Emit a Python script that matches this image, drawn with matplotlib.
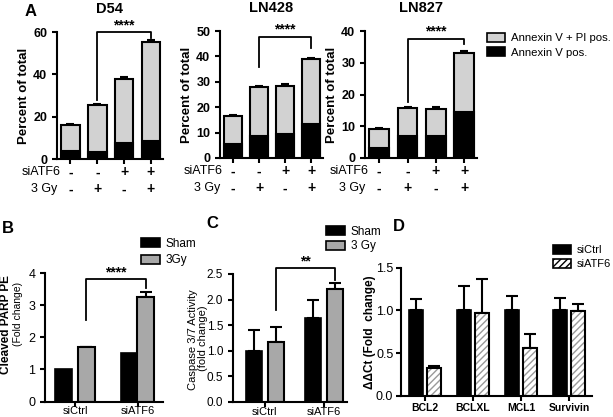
import numpy as np
import matplotlib
matplotlib.use("Agg")
import matplotlib.pyplot as plt
from matplotlib.patches import Patch

plt.rcParams["font.family"] = ["Liberation Sans", "DejaVu Sans"]
plt.rcParams["hatch.linewidth"] = 1.0

# Panel A data (percent of total)
a_titles = ["D54", "LN428", "LN827"]
a_total = [[16, 25.5, 38, 55.5], [16.5, 28, 28.3, 39], [9, 15.8, 15.5, 33]]
a_total_err = [[0.3, 0.3, 0.8, 0.5], [0.5, 0.5, 1.0, 0.5], [0.6, 0.4, 0.5, 0.8]]
a_black = [[4, 3.5, 7.5, 8.5], [5.5, 8.5, 9.5, 13.3], [3.3, 7, 7, 14.5]]
a_ymax = [60, 50, 40]
a_ystep = [20, 10, 10]
siatf6_row = ["-", "-", "+", "+"]
gy_row = ["-", "+", "-", "+"]

# Panel B data (cleaved PARP, fold change)
b_groups = ["siCtrl", "siATF6"]
b_sham = [1.0, 1.5]
b_3gy = [1.7, 3.25]
b_3gy_err = [0.0, 0.15]

# Panel C data (caspase 3/7)
c_groups = ["siCtrl", "siATF6"]
c_sham = [1.0, 1.65]
c_sham_err = [0.4, 0.35]
c_3gy = [1.18, 2.2]
c_3gy_err = [0.28, 0.12]

# Panel D data (ddCt)
d_genes = ["BCL2", "BCLXL", "MCL1", "Survivin"]
d_ctrl = [1.0, 1.0, 1.0, 1.0]
d_ctrl_err = [0.13, 0.29, 0.17, 0.15]
d_atf6 = [0.33, 0.97, 0.56, 0.99]
d_atf6_err = [0.02, 0.4, 0.16, 0.08]

LIGHT = "#d2d2d2"
MID = "#a8a8a8"
W, H = 613, 417


def px_axes(fig, x0, y0, x1, y1):
    return fig.add_axes([x0 / W, 1 - y1 / H, (x1 - x0) / W, (y1 - y0) / H])


def style(ax, lw=1.5):
    ax.spines["top"].set_visible(False)
    ax.spines["right"].set_visible(False)
    ax.spines["left"].set_linewidth(lw)
    ax.spines["bottom"].set_linewidth(lw)
    ax.tick_params(width=lw, length=3.5)


def up_err(ax, x, y, e, cap=3):
    ax.errorbar(x, y, yerr=[np.zeros(len(e)), e], fmt="none", ecolor="black",
                elinewidth=1.5, capsize=cap, capthick=1.5, zorder=1)


def bracket(ax, x1, x2, yl, yr, ytop, label, fs=10):
    ax.plot([x1, x1, x2, x2], [yl, ytop, ytop, yr], color="black", lw=1.3, clip_on=False)
    ax.text((x1 + x2) / 2, ytop, label, ha="center", va="bottom", fontsize=fs,
            fontweight="bold")


def box_legend(fig, handles, labels, x, y, fs=8.5, spacing=0.35):
    fig.legend(handles=handles, labels=labels, loc="upper left",
               bbox_to_anchor=(x / W, 1 - y / H), frameon=False, fontsize=fs,
               handlelength=1.6, handleheight=0.8, handletextpad=0.5,
               labelspacing=spacing, borderaxespad=0, borderpad=0)


fig = plt.figure(figsize=(W / 100, H / 100), dpi=100)

# ---- Panel A ----
a_boxes = [(57, 32, 163, 159), (220, 31, 323, 158), (365, 31, 477, 158)]
a_brackets = [(28, 57, 60), (36, 43.5, 47.8), (17.7, 36, 37.5)]
x = np.arange(4)
for i, box in enumerate(a_boxes):
    ax = px_axes(fig, *box)
    style(ax)
    up_err(ax, x, a_total[i], a_total_err[i], cap=3)
    ax.bar(x, a_total[i], width=0.7, color=LIGHT, edgecolor="black", lw=1.5, zorder=2)
    ax.bar(x, a_black[i], width=0.7, color="black", edgecolor="black", lw=1.5, zorder=3)
    ax.set_xlim(-0.5, 3.45)
    ax.set_ylim(0, a_ymax[i])
    ax.set_yticks(np.arange(0, a_ymax[i] + 1, a_ystep[i]))
    ax.set_xticks(x)
    ax.set_xticklabels([])
    for lab in ax.get_yticklabels():
        lab.set_fontweight("bold")
        lab.set_fontsize(9)
    ax.set_ylabel("Percent of total", fontsize=9.5, fontweight="bold", labelpad=2)
    ax.set_title(a_titles[i], fontsize=10.5, fontweight="bold", pad=14)
    yl, yr, yt = a_brackets[i]
    bracket(ax, 1, 3, yl, yr, yt, "****", fs=10)
    tr = ax.get_xaxis_transform()
    ax.text(0.03, -0.105, "siATF6", transform=ax.transAxes, ha="right", va="center", fontsize=9)
    ax.text(0.0, -0.24, "3 Gy", transform=ax.transAxes, ha="right", va="center", fontsize=9)
    for j in range(4):
        ax.text(x[j], -0.105, siatf6_row[j], transform=tr, ha="center", va="center",
                fontsize=10, fontweight="bold")
        ax.text(x[j], -0.24, gy_row[j], transform=tr, ha="center", va="center",
                fontsize=10, fontweight="bold")

fig.text(25 / W, 1 - 12 / H, "A", fontsize=12, fontweight="bold", va="center")
box_legend(fig, [Patch(facecolor=LIGHT, edgecolor="black", lw=1.2),
                 Patch(facecolor="black", edgecolor="black", lw=1.2)],
           ["Annexin V + PI pos.", "Annexin V pos."], 487, 33, fs=8.2)

# ---- Panel B ----
ax = px_axes(fig, 45, 273, 163, 401.5)
style(ax)
gx = np.arange(2)
offs = np.array([0.175, 0.127])
up_err(ax, gx + offs, b_3gy, b_3gy_err, cap=4)
ax.bar(gx - offs, b_sham, width=0.27, color="black", edgecolor="black", lw=1.2, zorder=2)
ax.bar(gx + offs, b_3gy, width=0.27, color=MID, edgecolor="black", lw=1.5, zorder=2)
ax.set_xlim(-0.476, 1.397)
ax.set_ylim(0, 4)
ax.set_yticks([0, 1, 2, 3, 4])
ax.set_xticks(gx)
ax.set_xticklabels(b_groups, fontsize=8)
ax.tick_params(axis="y", labelsize=9)
ax.tick_params(axis="x", pad=0)
bracket(ax, gx[0] + offs[0], gx[1] + offs[1], 2.55, 3.53, 3.8, "****", fs=10)
fig.text(6 / W, 1 - 325 / H, "Cleaved PARP PE", rotation=90, ha="center", va="center",
         fontsize=8.5, fontweight="bold")
fig.text(18 / W, 1 - 314 / H, "(Fold change)", rotation=90, ha="center", va="center",
         fontsize=7.5)
fig.text(2 / W, 1 - 228 / H, "B", fontsize=12, fontweight="bold", va="center")
box_legend(fig, [Patch(facecolor="black", edgecolor="black", lw=1.2),
                 Patch(facecolor=MID, edgecolor="black", lw=1.2)],
           ["Sham", "3Gy"], 141, 238)

# ---- Panel C ----
ax = px_axes(fig, 233, 274, 347, 402)
style(ax)
off = 0.19
up_err(ax, gx - off, c_sham, c_sham_err, cap=4)
up_err(ax, gx + off, c_3gy, c_3gy_err, cap=4)
ax.bar(gx - off, c_sham, width=0.27, color="black", edgecolor="black", lw=1.2, zorder=2)
ax.bar(gx + off, c_3gy, width=0.27, color=MID, edgecolor="black", lw=1.5, zorder=2)
ax.set_xlim(-0.54, 1.39)
ax.set_ylim(0, 2.5)
ax.set_yticks(np.arange(0, 2.51, 0.5))
ax.set_yticklabels([f"{v:.1f}" for v in np.arange(0, 2.51, 0.5)])
ax.set_xticks(gx)
ax.set_xticklabels(c_groups, fontsize=8)
ax.tick_params(axis="y", labelsize=8.5)
ax.tick_params(axis="x", pad=0)
bracket(ax, gx[0] + off, gx[1] + off, 1.8, 2.38, 2.61, "**", fs=10)
fig.text(193 / W, 1 - 340 / H, "Caspase 3/7 Activity", rotation=90, ha="center",
         va="center", fontsize=8)
fig.text(203 / W, 1 - 338 / H, "(fold change)", rotation=90, ha="center", va="center",
         fontsize=8)
fig.text(206 / W, 1 - 224 / H, "C", fontsize=12, fontweight="bold", va="center")
box_legend(fig, [Patch(facecolor="black", edgecolor="black", lw=1.2),
                 Patch(facecolor=MID, edgecolor="black", lw=1.2)],
           ["Sham", "3 Gy"], 326, 226, spacing=0.2)

# ---- Panel D ----
ax = px_axes(fig, 401, 267.7, 592, 395.7)
style(ax)
dx = np.arange(len(d_genes))
off = 0.19
up_err(ax, dx - off, d_ctrl, d_ctrl_err, cap=4)
up_err(ax, dx + off, d_atf6, d_atf6_err, cap=4)
ax.bar(dx - off, d_ctrl, width=0.28, color="black", edgecolor="black", lw=1.2, zorder=2)
ax.bar(dx + off, d_atf6, width=0.28, color="white", edgecolor="#9a9a9a", lw=0,
       hatch="/////", zorder=2)
ax.bar(dx + off, d_atf6, width=0.28, fill=False, edgecolor="black", lw=1.5, zorder=3)
ax.set_xlim(-0.5, 3.48)
ax.set_ylim(0, 1.5)
ax.set_yticks([0, 0.5, 1.0, 1.5])
ax.set_yticklabels(["0.0", "0.5", "1.0", "1.5"])
ax.set_xticks(dx)
ax.set_xticklabels(d_genes, fontsize=7.5, fontweight="bold")
ax.tick_params(axis="y", labelsize=9, pad=2)
ax.tick_params(axis="x", pad=2)
fig.text(370 / W, 1 - 332 / H, "\u0394\u0394Ct (Fold  change)", rotation=90, ha="center",
         va="center", fontsize=8.5, fontweight="semibold")
fig.text(393 / W, 1 - 227 / H, "D", fontsize=12, fontweight="bold", va="center")
box_legend(fig, [Patch(facecolor="black", edgecolor="black", lw=1.2),
                 Patch(facecolor="white", edgecolor="black", lw=1.2, hatch="/////")],
           ["siCtrl", "siATF6"], 553, 245, fs=8)

fig.savefig("out.png", dpi=100)
